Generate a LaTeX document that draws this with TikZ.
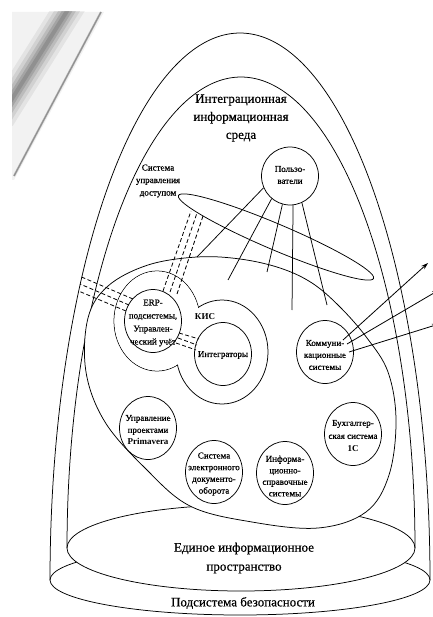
\documentclass[tikz,border=0pt]{standalone}
\usepackage{fontspec}
\setmainfont{Liberation Serif}[FakeBold=0.6,BoldFeatures={FakeBold=0}]
\usetikzlibrary{shapes.geometric,arrows.meta}
\begin{document}
\begin{tikzpicture}[x=1pt,y=-1pt,line width=0.75pt,
  sys/.style={draw,ellipse,fill=white,minimum width=57pt,minimum height=63pt,inner sep=0pt},
  stxt/.style={align=center,font=\fontsize{9}{12}\selectfont,inner sep=0pt},
  btxt/.style={align=center,font=\fontsize{13}{18}\selectfont,inner sep=0pt},
  dsh/.style={dash pattern=on 4pt off 2.5pt,line width=0.8pt},
  arr/.style={-{Stealth[length=7pt,width=4.5pt]},line width=0.8pt}]
\useasboundingbox (0,0) rectangle (432,617);
% scan artefact
\begin{scope}
\clip (12,12) rectangle (432,617);
\fill[black!5] (12,12) -- (104,12) -- (14,180) -- (12,180) -- cycle;
\foreach \w/\o in {30/0.06,22/0.08,15/0.10,9/0.12,4/0.12}
  \draw[line width=\w pt,black,opacity=\o] (74,0) -- (0,118);
\draw[black!30,line width=2pt] (101,12) -- (14,176);
\draw[black!45,line width=0.8pt] (101,12) -- (14,176);
\end{scope}
% security subsystem (outer)
\node[draw,ellipse,minimum width=380pt,minimum height=70pt,inner sep=0pt] (sec) at (240,580) {};
\draw plot[domain=180:0,samples=120,smooth] ({240+190*cos(\x)},{580-547*sin(\x)});
% unified information space
\node[draw,ellipse,fill=white,minimum width=348pt,minimum height=86pt,inner sep=0pt] (eis) at (241,548) {};
\draw plot[domain=180:0,samples=120,smooth] ({241+174*cos(\x)},{548-471*sin(\x)});
% big region
\draw[fill=white] plot[smooth cycle,tension=0.6] coordinates {(197,257) (240,259) (280,268) (312,283) (340,307) (367,338) (388,372) (396,420) (389,475) (366,512) (318,528) (252,522) (190,506) (145,468) (105,422) (86,372) (88,318) (108,286) (148,265)};
% KIS
\node[draw,ellipse,fill=white,minimum width=86pt,minimum height=100pt,inner sep=0pt] (ring) at (157,321) {};
\node[draw,ellipse,fill=white,minimum width=92pt,minimum height=104pt,inner sep=0pt] (lobe) at (222,352) {};
\fill[white] (157,321) ellipse [x radius=42.6pt,y radius=49.6pt];
% systems
\node[sys,minimum height=58pt] (users) at (290,176) {};
\node[sys] (erp) at (153,321) {};
\node[sys] (integ) at (223,354) {};
\node[sys] (comm) at (325,352) {};
\node[sys] (prim) at (148,428) {};
\node[sys] (sed) at (214,472) {};
\node[sys] (info) at (285,473) {};
\node[sys] (buh) at (353,434) {};
% access control
\node[draw,ellipse,minimum width=212pt,minimum height=26pt,inner sep=0pt,rotate=-23] (acc) at (276,237) {};
% users links
\coordinate (u1) at (197,257);
\coordinate (u2) at (228,280);
\coordinate (u3) at (267,272);
\coordinate (u4) at (292,310);
\coordinate (u5) at (327,305);
\draw (users.204) -- (u1);
\draw (users.231) -- (u2);
\draw (users.255) -- (u3);
\draw (users.276) -- (u4);
\draw (users.294) -- (u5);
% dashed links ERP -> access
\coordinate (p1) at (163,291); \coordinate (q1) at (191,211);
\coordinate (p2) at (170,292); \coordinate (q2) at (197,213);
\coordinate (p3) at (177,294); \coordinate (q3) at (203,216);
\draw[dsh] (p1) -- (q1);
\draw[dsh] (p2) -- (q2);
\draw[dsh] (p3) -- (q3);
% dashed links ERP -> outer
\coordinate (r1) at (133,299); \coordinate (s1) at (81.5,277);
\coordinate (r2) at (129,305); \coordinate (s2) at (80,284);
\coordinate (r3) at (126,311); \coordinate (s3) at (78.5,291);
\draw[dsh] (r1) -- (s1);
\draw[dsh] (r2) -- (s2);
\draw[dsh] (r3) -- (s3);
% dashed links ERP -> integrators
\coordinate (t1) at (179,333); \coordinate (v1) at (199,339);
\coordinate (t2) at (178,338); \coordinate (v2) at (197,345);
\coordinate (t3) at (176,343); \coordinate (v3) at (196,350);
\draw[dsh] (t1) -- (v1);
\draw[dsh] (t2) -- (v2);
\draw[dsh] (t3) -- (v3);
% arrows from communication systems
\coordinate (c1) at (343,340); \coordinate (e1) at (428,263);
\coordinate (c2) at (347,344); \coordinate (e2) at (439,290);
\coordinate (c3) at (349,352); \coordinate (e3) at (439,324);
\draw[arr] (c1) -- (e1);
\draw[arr] (c2) -- (e2);
\draw[arr] (c3) -- (e3);
% texts
\node[btxt] (tiis) at (241,118) {Интеграционная\\информационная\\среда};
\node[stxt,font=\fontsize{9}{12.5}\selectfont] (tacc) at (158,181) {Система\\управления\\доступом};
\node[stxt] (tusers) at (290,175) {Пользо-\\ватели};
\node[stxt,font=\fontsize{9}{13}\selectfont] (terp) at (153,323) {ERP-\\подсистемы,\\Управлен-\\ческий учёт};
\node[stxt,font=\bfseries\fontsize{9}{12}\selectfont] (tkis) at (205,317) {КИС};
\node[stxt] (tinteg) at (223,355) {Интеграторы};
\node[stxt] (tcomm) at (325,355) {Коммуни-\\кационные\\системы};
\node[stxt] (tprim) at (148,430) {Управление\\проектами\\\textbf{Primavera}};
\node[stxt,font=\fontsize{9}{11.7}\selectfont] (tsed) at (214,474) {Система\\электронного\\документо-\\оборота};
\node[stxt,font=\fontsize{9}{11.5}\selectfont] (tinfo) at (285,476) {Информа-\\ционно-\\справочные\\системы};
\node[stxt,font=\fontsize{9}{13}\selectfont] (tbuh) at (353,436) {Бухгалтер-\\ская система\\\textbf{1С}};
\node[btxt,font=\fontsize{13}{19}\selectfont] (teis) at (244,558) {Единое информационное\\пространство};
\node[btxt] (tsec) at (243,603) {Подсистема безопасности};
\end{tikzpicture}
\end{document}
